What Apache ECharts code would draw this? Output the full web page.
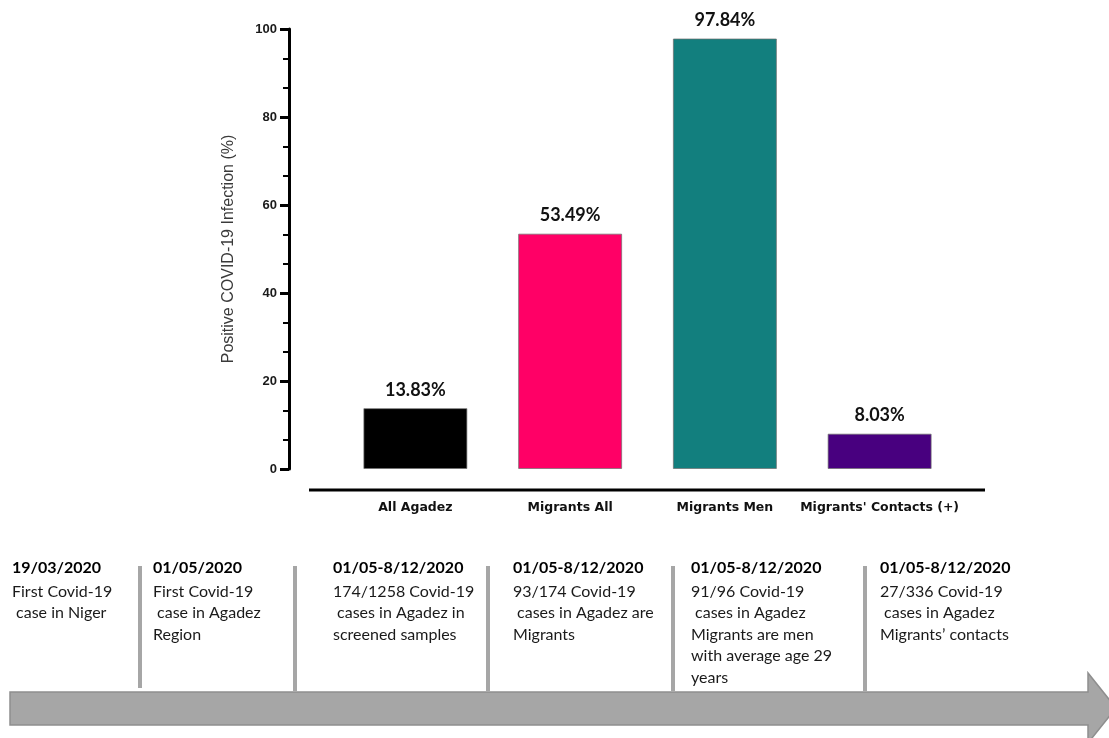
<!DOCTYPE html>
<html>
<head>
<meta charset="utf-8">
<script src="https://cdn.jsdelivr.net/npm/echarts@6/dist/echarts.min.js"></script>
<style>
html,body{margin:0;padding:0;background:#fff;}
#chart{width:1109px;height:738px;}
</style>
</head>
<body>
<div id="chart"></div>
<script>
// ---- data ----
const categories = ['All Agadez', 'Migrants All', 'Migrants Men', "Migrants' Contacts (+)"];
const positivity = [13.83, 53.49, 97.84, 8.03];
const yTicks = [0, 20, 40, 60, 80, 100];
const yAxisTitle = 'Positive COVID-19 Infection (%)';

const timelineDates = ['19/03/2020', '01/05/2020', '01/05-8/12/2020', '01/05-8/12/2020', '01/05-8/12/2020', '01/05-8/12/2020'];
const timelineNotes = [
  ['First Covid-19', ' case in Niger'],
  ['First Covid-19', ' case in Agadez', 'Region'],
  ['174/1258 Covid-19', ' cases in Agadez in', 'screened samples'],
  ['93/174 Covid-19', ' cases in Agadez are', 'Migrants'],
  ['91/96 Covid-19', ' cases in Agadez', 'Migrants are men', 'with average age 29', 'years'],
  ['27/336 Covid-19', ' cases in Agadez', 'Migrants\u2019 contacts']
];

// ---- styles / layout ----
const barColors = ['#000000', '#FF0066', '#127F7E', '#48007F'];
const blockX = [12, 153, 333, 513, 691, 880];
const sepX = [140, 295, 488, 673, 865];
const grey = '#A6A6A6';

const chart = echarts.init(document.getElementById('chart'), null, {renderer: 'canvas'});

const graphics = [];
// extended x axis baseline (GraphPad style, detached)
graphics.push({type: 'line', shape: {x1: 309, y1: 490, x2: 985, y2: 490}, style: {stroke: '#000', lineWidth: 3}, z: 10});
// timeline arrow
graphics.push({
  type: 'polygon',
  shape: {points: [[10, 692], [1088, 692], [1088, 673], [1116, 708], [1088, 743], [1088, 725], [10, 725]]},
  style: {fill: grey, stroke: '#8E8E8E', lineWidth: 1.5}
});
sepX.forEach((x, i) => {
  graphics.push({type: 'rect', shape: {x: x - 2, y: 566, width: 4, height: (i === 0 ? 122 : 125)}, style: {fill: grey}});
});
timelineDates.forEach((d, i) => {
  graphics.push({
    type: 'text', x: blockX[i], y: 560,
    style: {text: d, fontFamily: 'Lato', fontWeight: 'bold', fontSize: 16, fill: '#000', verticalAlign: 'top', align: 'left'}
  });
  graphics.push({
    type: 'text', x: blockX[i], y: 581,
    style: {text: timelineNotes[i].join('\n'), fontFamily: 'Lato', fontSize: 16, lineHeight: 21.5, fill: '#1a1a1a', verticalAlign: 'top', align: 'left'}
  });
});

chart.setOption({
  animation: false,
  backgroundColor: '#ffffff',
  grid: {left: 338, right: 152, top: 29, height: 440, containLabel: false},
  xAxis: {
    type: 'category',
    data: categories,
    offset: 21,
    axisLine: {show: false},
    axisTick: {show: false},
    axisLabel: {margin: 11, fontFamily: 'DejaVu Sans', fontWeight: 'bold', fontSize: 12.5, color: '#111', interval: 0}
  },
  yAxis: {
    type: 'value',
    min: yTicks[0], max: yTicks[yTicks.length - 1], interval: yTicks[1] - yTicks[0],
    offset: 49,
    name: yAxisTitle,
    nameLocation: 'middle',
    nameRotate: 90,
    nameGap: 52,
    nameTextStyle: {fontFamily: 'Liberation Sans', fontSize: 16, color: '#3a3a3a'},
    axisLine: {show: true, lineStyle: {color: '#000', width: 3}},
    axisTick: {show: true, length: 9, lineStyle: {color: '#000', width: 3}},
    minorTick: {show: true, splitNumber: 3, length: 6, lineStyle: {color: '#000', width: 2}},
    splitLine: {show: false},
    axisLabel: {margin: 12, fontFamily: 'Liberation Sans', fontWeight: 'bold', fontSize: 13, color: '#1a1a1a'}
  },
  series: [{
    type: 'bar',
    barWidth: 104,
    data: positivity.map((v, i) => ({value: v, itemStyle: {color: barColors[i], borderColor: 'rgba(110,110,110,0.7)', borderWidth: 1}})),
    label: {
      show: true, position: 'top', distance: 9,
      formatter: p => p.value.toFixed(2) + '%',
      fontFamily: 'Lato', fontWeight: 'bold', fontSize: 18, color: '#111'
    }
  }],
  graphic: graphics
});
</script>
</body>
</html>
